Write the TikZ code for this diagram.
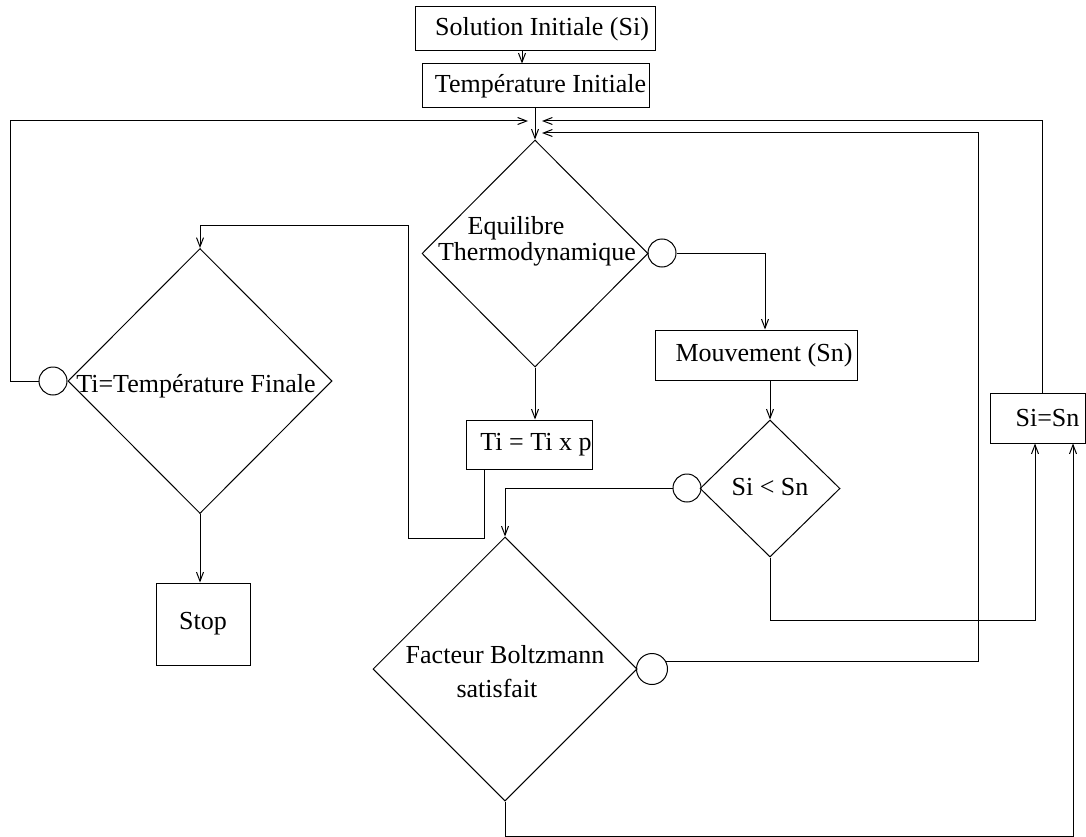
\documentclass[tikz,border=0pt]{standalone}
\usepackage{fontspec}
\setmainfont{Liberation Serif}
\usetikzlibrary{shapes.geometric,arrows.meta}
\begin{document}
\begin{tikzpicture}[x=1pt,y=-1pt,
  every node/.style={font=\fontsize{26}{30}\selectfont},
  box/.style={draw, line width=1pt, inner sep=0pt},
  dia/.style={draw, shape=diamond, inner sep=0pt, line width=1pt},
  knob/.style={draw, circle, minimum size=28pt, inner sep=0pt, line width=1pt},
  txt/.style={inner sep=0pt, anchor=base},
  flow/.style={line width=1pt, -{Straight Barb[length=9pt,width=7pt]}},
  wire/.style={line width=1pt}]
\useasboundingbox (0,0) rectangle (1086,837);

% boxes
\node[box, minimum width=240pt, minimum height=44pt, label={[xshift=7pt]center:Solution Initiale (Si)}] (si) at (535,29) {};
\node[box, minimum width=227pt, minimum height=44pt, label={[xshift=5pt]center:Température Initiale}] (ti0) at (535.5,86) {};
\node[box, minimum width=202pt, minimum height=50pt, label={[xshift=8pt]center:Mouvement (Sn)}] (mv) at (756,355) {};
\node[box, minimum width=126pt, minimum height=49pt, label={[xshift=7pt]center:Ti = Ti x p}] (tix) at (529,444.5) {};
\node[box, minimum width=95pt, minimum height=50pt, label={[xshift=10pt]center:Si=Sn}] (sisn) at (1037.5,418) {};
\node[box, minimum width=94pt, minimum height=82pt, label={center:Stop}] (stop) at (203,624) {};

% diamonds
\node[dia, minimum width=226pt, minimum height=227pt] (eq) at (535,253.5) {};
\node[dia, minimum width=264pt, minimum height=265pt] (tf) at (200,381) {};
\node[dia, minimum width=140pt, minimum height=137pt] (ss) at (770,488.5) {};
\node[dia, minimum width=264pt, minimum height=264pt] (bz) at (505,669) {};

% diamond texts
\node[txt] (eqa) at (516,234) {Equilibre};
\node[txt] (eqb) at (537,260) {Thermodynamique};
\node[txt] (tft) at (196,392) {Ti=Température Finale};
\node[txt] (sst) at (770,495) {Si < Sn};
\node[txt] (bza) at (505,663) {Facteur Boltzmann};
\node[txt] (bzb) at (497,697) {satisfait};

% circles
\node[knob] (c1) at (53,381) {};
\node[knob] (c2) at (662,253) {};
\node[knob, minimum size=31pt] (c3) at (652,669) {};
\node[knob] (c4) at (687,488) {};

% junction points
\coordinate (jl) at (528,121);
\coordinate (jr1) at (542,121);
\coordinate (jr2) at (542,133);

% connectors
\draw[flow] ([xshift=-13pt]si.south) -- ([xshift=-13.5pt]ti0.north);
\draw[flow] (ti0.south -| eq.north) -- (eq.north);
\draw[flow] (c1.west) -| (10,121) -- (jl);
\draw[flow] ([xshift=4.5pt]sisn.north) |- (jr1);
\draw[flow] (c3.27) -| (978,133) -- (jr2);
\draw[flow] (c2.east) -| ([xshift=9pt]mv.north);
\draw[flow] (mv.south -| ss.north) -- (ss.north);
\draw[flow] (eq.south) -- (eq.south |- tix.north);
\draw[flow] ([xshift=-45pt]tix.south) -- ++(0,69) -| (408,225) -| (tf.north);
\draw[flow] (tf.south) -- (tf.south |- stop.north);
\draw[flow] (c4.west) -| (bz.north);
\draw[flow] (ss.south) -- ++(0,63) -| ([xshift=-2.5pt]sisn.south);
\draw[flow] (bz.south) -- ++(0,35) -| ([xshift=35.5pt]sisn.south);
\end{tikzpicture}
\end{document}
